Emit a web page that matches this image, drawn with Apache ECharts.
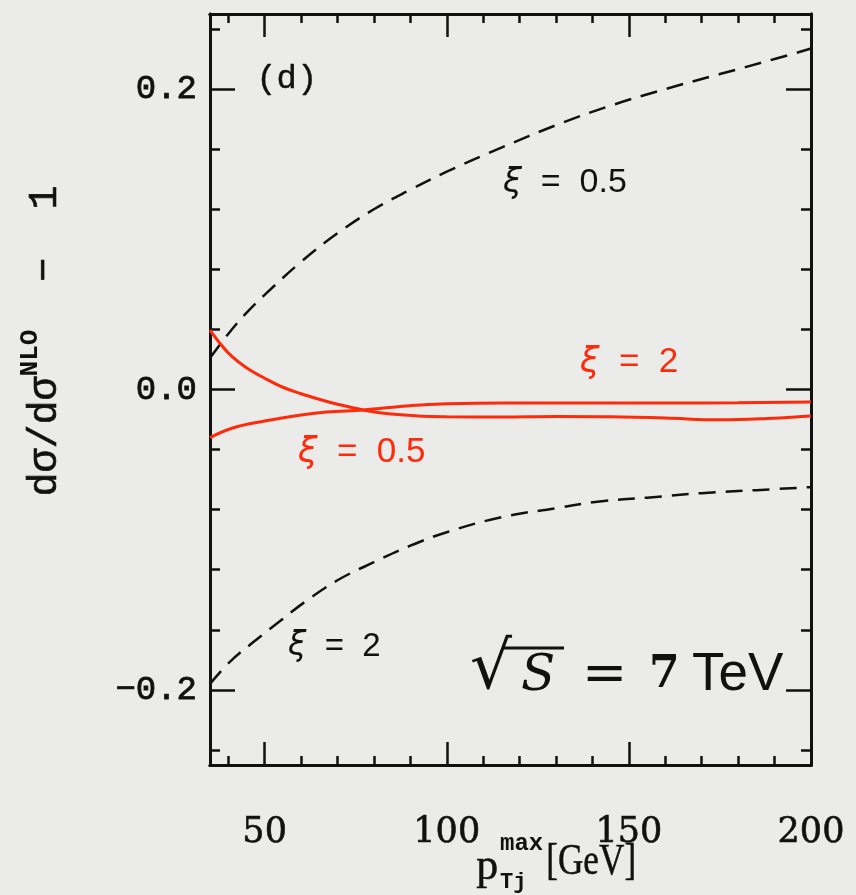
<!DOCTYPE html>
<html>
<head>
<meta charset="utf-8">
<script src="https://cdn.jsdelivr.net/npm/echarts@6/dist/echarts.min.js"></script>
<style>
  html, body { margin: 0; padding: 0; background: #ebebe9; }
  #chart { width: 856px; height: 895px; }
</style>
</head>
<body>
<div id="chart"></div>
<script>
// Axis ranges and tick positions
const xMin = 35, xMax = 200;
const yMin = -0.25, yMax = 0.25;
const xMajor = [50, 100, 150, 200];
const xMinor = [40, 60, 70, 80, 90, 110, 120, 130, 140, 160, 170, 180, 190];
const yMajor = [-0.2, 0, 0.2];
const yMinor = [-0.24, -0.16, -0.12, -0.08, -0.04, 0.04, 0.08, 0.12, 0.16, 0.24];

// Fixed-order results: xi = 0.5 (black dashed, upper)
const dashHalfX = [35, 40, 45, 50, 60, 70, 80, 90, 100, 115, 130, 145, 160, 175, 190, 200];
const dashHalfY = [0.021, 0.037, 0.051, 0.063, 0.085, 0.104, 0.120, 0.133, 0.145, 0.161, 0.176, 0.189, 0.200, 0.210, 0.220, 0.227];

// Fixed-order results: xi = 2 (black dashed, lower)
const dashTwoX = [35, 40.6, 47, 53.8, 61, 70, 80, 90, 100, 115, 130, 142, 155, 170, 185, 200];
const dashTwoY = [-0.196, -0.181, -0.168, -0.155, -0.1415, -0.127, -0.115, -0.104, -0.095, -0.085, -0.079, -0.0745, -0.072, -0.069, -0.067, -0.065];

// Resummed results: xi = 2 (red, starts high)
const redTwoX = [35, 38, 41, 45, 50, 55, 60, 65, 70, 77, 84, 92, 100, 115, 130, 145, 160, 175, 188, 200];
const redTwoY = [0.0396, 0.030, 0.022, 0.0145, 0.0075, 0.0015, -0.0028, -0.0065, -0.0098, -0.0136, -0.0162, -0.0176, -0.0181, -0.0183, -0.018, -0.0182, -0.019, -0.0202, -0.0193, -0.0176];

// Resummed results: xi = 0.5 (red, starts low)
const redHalfX = [35, 41.2, 50, 60, 67, 77, 85, 93, 100, 115, 138, 161, 180, 200];
const redHalfY = [-0.032, -0.0256, -0.021, -0.017, -0.015, -0.0136, -0.0118, -0.0103, -0.0095, -0.009, -0.009, -0.009, -0.0088, -0.0083];

const RED = '#ff2a0a';
const INK = '#111111';
const TT = '"Liberation Mono", "DejaVu Sans Mono", monospace';
const SANS = '"Liberation Sans", Arial, sans-serif';
const DSANS = '"DejaVu Sans", sans-serif';
const SERIF = '"DejaVu Serif", "Liberation Serif", serif';
const LSERIF = '"Liberation Serif", "DejaVu Serif", serif';

function pairs(xs, ys) { return xs.map((x, i) => [x, ys[i]]); }

function xAx(position, ticks, len, labels) {
  return {
    type: 'value', min: xMin, max: xMax, position,
    axisLine: { show: true, onZero: false, lineStyle: { color: INK, width: 3 } },
    axisTick: { show: true, inside: true, length: len, customValues: ticks, lineStyle: { color: INK, width: 2.5 } },
    axisLabel: labels ? {
      show: true, customValues: ticks, margin: 50,
      fontFamily: SERIF, fontSize: 35, color: INK,
      textBorderColor: INK, textBorderWidth: 0.6
    } : { show: false },
    splitLine: { show: false }
  };
}
function yAx(position, ticks, len, labels) {
  return {
    type: 'value', min: yMin, max: yMax, position,
    axisLine: { show: true, onZero: false, lineStyle: { color: INK, width: 3 } },
    axisTick: { show: true, inside: true, length: len, customValues: ticks, lineStyle: { color: INK, width: 2.5 } },
    axisLabel: labels ? {
      show: true, customValues: ticks, margin: 13,
      fontFamily: TT, fontSize: 34, color: INK,
      textBorderColor: INK, textBorderWidth: 0.8,
      formatter: v => (Math.abs(v) < 1e-9 ? '0.0' : (v < 0 ? '\u2212' : '') + Math.abs(v).toFixed(1))
    } : { show: false },
    splitLine: { show: false }
  };
}

const chart = echarts.init(document.getElementById('chart'), null, { renderer: 'canvas' });

const dashStyle = { color: INK, width: 2.5, type: [17, 10] };

const option = {
  backgroundColor: '#ebebe9',
  animation: false,
  grid: { left: 210, right: 45, top: 14, bottom: 130 },
  xAxis: [
    xAx('bottom', xMajor, 23, true),
    xAx('bottom', xMinor, 9, false),
    xAx('top', xMajor, 23, false),
    xAx('top', xMinor, 9, false)
  ],
  yAxis: [
    yAx('left', yMajor, 25, true),
    yAx('left', yMinor, 10, false),
    yAx('right', yMajor, 25, false),
    yAx('right', yMinor, 10, false)
  ],
  series: [
    { name: 'xi=0.5 fixed order', type: 'line', data: pairs(dashHalfX, dashHalfY),
      showSymbol: false, smooth: 0.4, lineStyle: dashStyle },
    { name: 'xi=2 fixed order', type: 'line', data: pairs(dashTwoX, dashTwoY),
      showSymbol: false, smooth: 0.4, lineStyle: dashStyle },
    { name: 'xi=2 resummed', type: 'line', data: pairs(redTwoX, redTwoY),
      showSymbol: false, smooth: 0.4, lineStyle: { color: RED, width: 3 } },
    { name: 'xi=0.5 resummed', type: 'line', data: pairs(redHalfX, redHalfY),
      showSymbol: false, smooth: 0.4, lineStyle: { color: RED, width: 3 } }
  ],
  graphic: [
    // panel tag
    { type: 'text', left: 256, top: 62, style: { text: '(d)', font: '34px ' + TT, fill: INK, stroke: INK, lineWidth: 0.4 } },
    // curve labels
    { type: 'text', left: 503, top: 166, style: {
      text: '{g|\u03be}  =  0.5', font: '34px ' + SANS, fill: INK,
      rich: { g: { font: 'oblique 34px ' + DSANS, fill: INK } } } },
    { type: 'text', left: 580, top: 345, style: {
      text: '{g|\u03be}  =  2', font: '35px ' + SANS, fill: RED,
      rich: { g: { font: 'oblique 35px ' + DSANS, fill: RED } } } },
    { type: 'text', left: 298, top: 435, style: {
      text: '{g|\u03be}  =  0.5', font: '35px ' + SANS, fill: RED,
      rich: { g: { font: 'oblique 35px ' + DSANS, fill: RED } } } },
    { type: 'text', left: 288, top: 630, style: {
      text: '{g|\u03be}  =  2', font: '33px ' + SANS, fill: INK,
      rich: { g: { font: 'oblique 33px ' + DSANS, fill: INK } } } },
    // collision energy
    { type: 'text', left: 470, top: 638, style: { text: '\u221a', font: '66px ' + DSANS, fill: INK } },
    { type: 'line', shape: { x1: 503, y1: 648, x2: 564, y2: 648 }, style: { stroke: INK, lineWidth: 3 } },
    { type: 'text', left: 521, top: 652, style: { text: 'S', font: 'italic 50px ' + SERIF, fill: INK } },
    { type: 'text', left: 582, top: 650, style: { text: '=', font: '54px ' + SERIF, fill: INK } },
    { type: 'text', left: 649, top: 654, style: { text: '7', font: 'bold 44px ' + SERIF, fill: INK } },
    { type: 'text', left: 692, top: 649, style: { text: 'TeV', font: '53px ' + SANS, fill: INK } },
    // x-axis title
    { type: 'text', left: 476, top: 845, style: { text: 'p', font: '44px ' + LSERIF, fill: INK, stroke: INK, lineWidth: 0.5 } },
    { type: 'text', left: 500, top: 832, style: { text: 'max', font: 'bold 24px ' + TT, fill: INK } },
    { type: 'text', left: 500, top: 871, style: { text: 'Tj', font: 'bold 22px ' + TT, fill: INK } },
    { type: 'text', left: 546, top: 840, scaleX: 0.8, style: { text: '[GeV]', font: '44px ' + LSERIF, fill: INK, stroke: INK, lineWidth: 0.5 } },
    // y-axis title
    { type: 'text', x: 41, y: 341, rotation: Math.PI / 2, style: {
      text: '{m|d\u03c3/d\u03c3}{s|NLO}{m|  \u2212  1}',
      align: 'center', verticalAlign: 'middle',
      rich: {
        m: { font: '40px ' + TT, fill: INK, stroke: INK, lineWidth: 0.6, lineHeight: 48, verticalAlign: 'bottom' },
        s: { font: 'bold 26px ' + TT, fill: INK, lineHeight: 26, verticalAlign: 'top' }
      } } }
  ]
};

chart.setOption(option);
</script>
</body>
</html>
